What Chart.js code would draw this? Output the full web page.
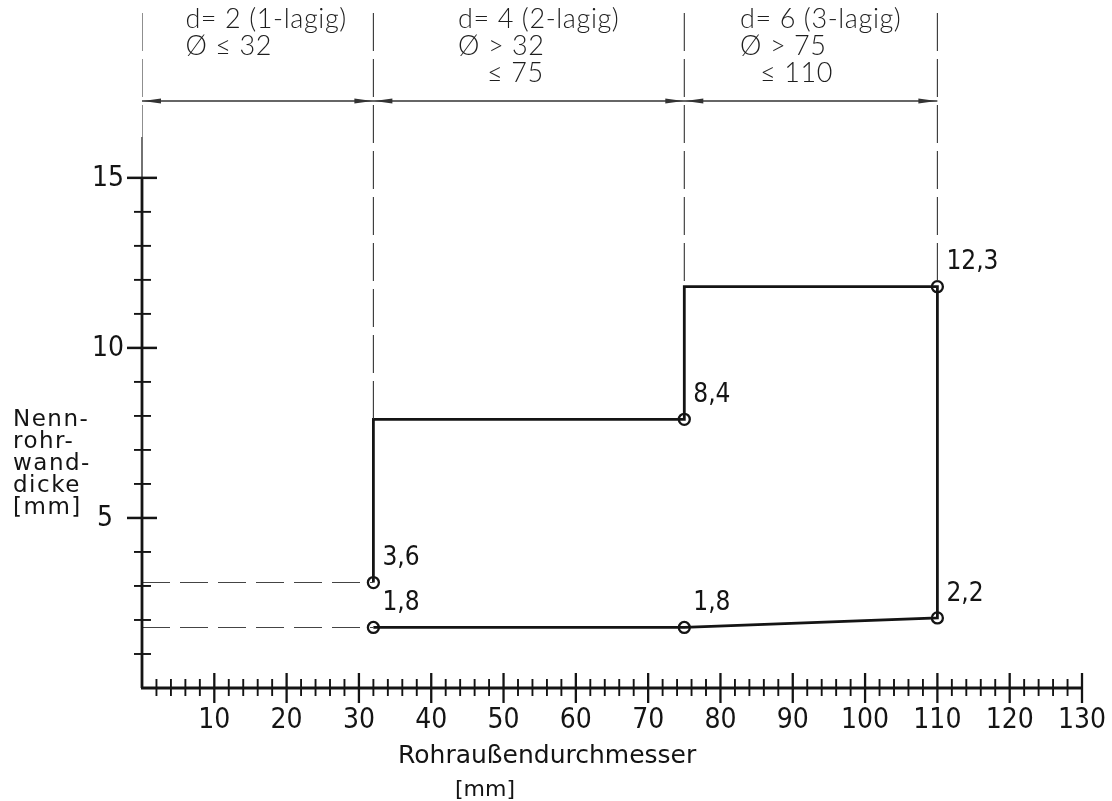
<!DOCTYPE html>
<html>
<head>
<meta charset="utf-8">
<script src="https://cdn.jsdelivr.net/npm/chart.js@4.4.1/dist/chart.umd.min.js"></script>
<style>
  html, body { margin: 0; background: #fff; }
  #wrap { width: 1112px; height: 801px; }
</style>
</head>
<body>
<div id="wrap"><canvas id="chart" width="1112" height="801"></canvas></div>
<script>
// Nennrohrwanddicke über Rohraußendurchmesser (Wicklungslagen d = 2 / 4 / 6)

const xTicks = [10, 20, 30, 40, 50, 60, 70, 80, 90, 100, 110, 120, 130];
const yTicks = [5, 10, 15];

// Bereichsgrenzen Ø
const bounds = [0, 32, 75, 110];

// Umrisslinie (wie gezeichnet)
const outlineX = [32, 32, 75, 75, 110, 110, 75, 32];
const outlineY = [3.1, 7.9, 7.9, 11.8, 11.8, 2.06, 1.78, 1.78];

// markierte Punkte und ihre Beschriftung
const markX = [32, 32, 75, 75, 110, 110];
const markY = [3.1, 1.78, 7.9, 1.78, 11.8, 2.06];
const markText = ['3,6', '1,8', '8,4', '1,8', '12,3', '2,2'];

// Bereichstexte oben
const rangeText = [
    ['d= 2 (1-lagig)', 'Ø ≤ 32'],
    ['d= 4 (2-lagig)', 'Ø > 32', '≤ 75'],
    ['d= 6 (3-lagig)', 'Ø > 75', '≤ 110']
];

const yTitle = ['Nenn-', 'rohr-', 'wand-', 'dicke', '[mm]'];
const xTitle = 'Rohraußendurchmesser';
const xUnit = '[mm]';

// --- build datasets ---
const outline = outlineX.map((x, i) => ({ x: x, y: outlineY[i] }));
const marks = markX.map((x, i) => ({ x: x, y: markY[i] }));

// gestrichelte Hilfslinien waagerecht zur y-Achse
const leaders = [];
[0, 1].forEach(i => {
    leaders.push({ x: 0, y: markY[i] }, { x: markX[i], y: markY[i] }, { x: markX[i], y: null });
});

// gestrichelte senkrechte Bereichsgrenzen (bis zur Umrisslinie)
const dividerTop = 19.85;
const dividerEnd = [16.2, 7.9, 11.8, 11.8];
const dividers = [];
bounds.forEach((b, i) => {
    dividers.push({ x: b, y: dividerTop }, { x: b, y: dividerEnd[i] }, { x: b, y: null });
});

const dimY = 17.26; // Maßlinie
const dimLine = [{ x: bounds[0], y: dimY }, { x: bounds[3], y: dimY }];

const ink = '#141414';
const narrow = "'Liberation Sans Narrow', 'DejaVu Sans Condensed', sans-serif";

const drawing = {
    id: 'drawing',
    afterDatasetsDraw(chart) {
        const ctx = chart.ctx;
        const xs = chart.scales.x, ys = chart.scales.y;
        const px = v => xs.getPixelForValue(v);
        const py = v => ys.getPixelForValue(v);
        const seg = (x1, y1, x2, y2) => { ctx.beginPath(); ctx.moveTo(x1, y1); ctx.lineTo(x2, y2); ctx.stroke(); };

        ctx.save();
        ctx.strokeStyle = ink;
        ctx.fillStyle = ink;
        ctx.lineCap = 'butt';

        // x axis with ticks every 2
        ctx.lineWidth = 2.8;
        seg(px(0) - 1, py(0), px(130), py(0));
        for (let v = 2; v <= 130; v += 2) {
            const major = v % 10 === 0;
            ctx.lineWidth = major ? 2.3 : 1.9;
            if (major) seg(px(v), py(0) - 15, px(v), py(0) + 15);
            else seg(px(v), py(0) - 9, px(v), py(0) + 8);
        }

        // y axis with ticks every 1
        ctx.lineWidth = 2.8;
        seg(px(0), py(0), px(0), py(15));
        ctx.lineWidth = 1.2;
        seg(px(0), py(15), px(0), py(16.2));
        for (let v = 1; v <= 15; v++) {
            const major = v % 5 === 0;
            ctx.lineWidth = major ? 2.5 : 1.9;
            if (major) seg(px(0) - 15, py(v), px(0) + 15, py(v));
            else seg(px(0) - 8, py(v), px(0) + 9, py(v));
        }

        // arrow heads on the dimension line
        ctx.fillStyle = '#333';
        const arrow = (xt, dir) => {
            const yy = py(dimY);
            ctx.beginPath();
            ctx.moveTo(xt, yy);
            ctx.lineTo(xt - dir * 18, yy - 2.6);
            ctx.lineTo(xt - dir * 18, yy + 2.6);
            ctx.closePath();
            ctx.fill();
        };
        for (let i = 0; i < 3; i++) {
            arrow(px(bounds[i]) + 1, -1);
            arrow(px(bounds[i + 1]) - 1, 1);
        }

        // tick labels
        ctx.fillStyle = ink;
        ctx.font = '28px ' + narrow;
        ctx.textAlign = 'center';
        ctx.textBaseline = 'middle';
        xTicks.forEach(v => ctx.fillText(String(v), px(v), py(0) + 33));
        ctx.textAlign = 'right';
        yTicks.forEach(v => ctx.fillText(String(v), px(0) - (v < 10 ? 29 : 18), py(v) + 1));

        // point labels
        ctx.font = '26px ' + narrow;
        ctx.textAlign = 'left';
        markText.forEach((t, i) => ctx.fillText(t, px(markX[i]) + 9, py(markY[i]) - 24));

        // range texts at top
        ctx.font = "300 27px Lato, 'Liberation Sans', sans-serif";
        ctx.letterSpacing = '0.6px';
        ctx.fillStyle = '#1e1e1e';
        const textLeft = [6, 43.7, 82.7];
        const indent = [0, 29, 20];
        rangeText.forEach((lines, i) => {
            lines.forEach((t, j) => {
                const ind = j === 2 ? indent[i] : 0;
                ctx.fillText(t, px(textLeft[i]) + ind, 19 + j * 27);
            });
        });
        ctx.letterSpacing = '0px';

        // axis titles
        ctx.fillStyle = ink;
        ctx.font = "23px 'DejaVu Sans', sans-serif";
        ctx.letterSpacing = '1.5px';
        yTitle.forEach((t, i) => ctx.fillText(t, 13, 420 + i * 22));
        ctx.letterSpacing = '0px';
        ctx.font = "25px 'DejaVu Sans', sans-serif";
        ctx.textAlign = 'left';
        ctx.fillText(xTitle, 398, 756);
        ctx.font = "22px 'DejaVu Sans', sans-serif";
        ctx.textAlign = 'center';
        ctx.fillText(xUnit, 485, 790);

        ctx.restore();
    }
};

new Chart(document.getElementById('chart'), {
    type: 'scatter',
    data: {
        datasets: [
            {
                label: 'Hilfslinien',
                data: leaders,
                showLine: true,
                spanGaps: false,
                borderColor: '#444',
                borderWidth: 1.1,
                borderDash: [28, 10],
                pointRadius: 0
            },
            {
                label: 'Bereichsgrenzen',
                data: dividers,
                showLine: true,
                spanGaps: false,
                borderColor: '#333',
                borderWidth: 1.1,
                borderDash: [38, 8],
                pointRadius: 0
            },
            {
                label: 'Maßlinie',
                data: dimLine,
                showLine: true,
                borderColor: '#333',
                borderWidth: 1.3,
                pointRadius: 0
            },
            {
                label: 'Wanddicke',
                data: outline,
                showLine: true,
                borderColor: ink,
                borderWidth: 2.8,
                pointRadius: 0,
                tension: 0
            },
            {
                label: 'Punkte',
                data: marks,
                showLine: false,
                pointRadius: 5.5,
                pointBorderWidth: 2.3,
                pointBorderColor: ink,
                pointBackgroundColor: '#fff'
            }
        ]
    },
    options: {
        responsive: false,
        animation: false,
        layout: { padding: { left: 142, right: 30, top: 6, bottom: 113 } },
        scales: {
            x: { type: 'linear', min: 0, max: 130, display: false },
            y: { type: 'linear', min: 0, max: 20, display: false }
        },
        plugins: {
            legend: { display: false },
            tooltip: { enabled: false }
        }
    },
    plugins: [drawing]
});
</script>
</body>
</html>
